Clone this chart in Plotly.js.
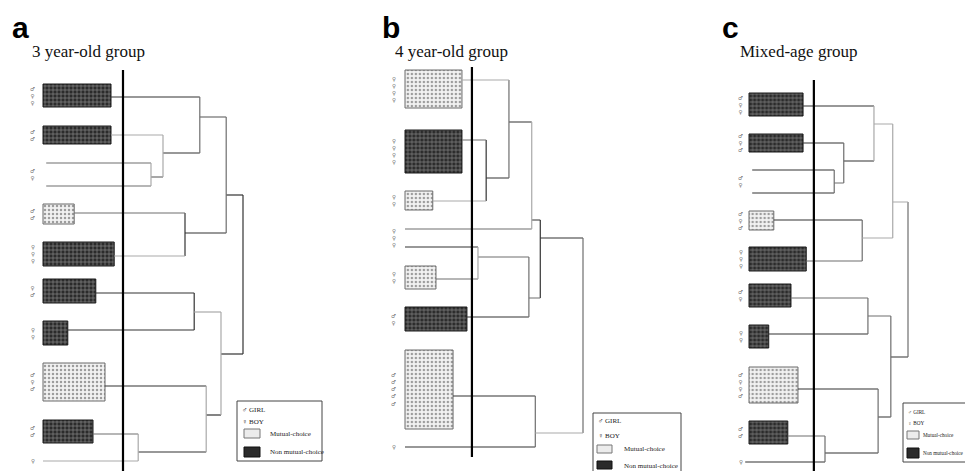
<!DOCTYPE html>
<html><head><meta charset="utf-8">
<script src="https://cdn.plot.ly/plotly-3.0.1.min.js"></script>
<style>html,body{margin:0;padding:0;background:#fff}#chart{width:965px;height:471px}</style>
</head><body><div id="chart"></div>
<script>
// ================= DATA =================
// Panel a — 3 year-old group (leaves top to bottom)
const labelsA   = ['♂♀♀','♂♂','♂♀','','♂♂','♀♀♀','♀♂','♀♀','♂♀♂','♂♂','♀'];
const typesA    = ['N','N','','','M','N','N','N','M','N',''];     // M = mutual-choice, N = non mutual-choice
const lenA      = [8.5,8.5,0.4,0.4,3.9,8.9,6.6,3.1,7.75,6.25,0];  // bar length (rescaled distance)
const rowA      = [97,135,163,186,213,256,293,330,386,434,461];
const rectTopA  = [84,126,null,null,204,242,279,321,363,420,null];
const rectBotA  = [107,144,null,null,224,266,303,345,401,443,null];
const mLeftA    = [2,1,0,4,13,6,9,8,16,15];
const mRightA   = [3,11,12,5,14,7,10,17,18,19];
const mDistA    = [13.5,15,19.6,17.75,22.9,18.9,11.9,20.4,22.25,25];
const mRowA     = [177,153,117,233,195,312,452,415,354,null];
const cutA      = 10;

// Panel b — 4 year-old group
const labelsB   = ['♀♀♀♀','♀♀♀♀','♀♀','♀♀♀','','♀♀','♂♀','♂♂♂♂♂','♀'];
const typesB    = ['M','N','M','','','M','N','M',''];
const lenB      = [8.0,8.0,3.9,0,0,4.35,8.7,6.75,0];
const rowB      = [80,140,201,229,247,279,317,396,447];
const rectTopB  = [70,130,191,null,null,266,307,350,null];
const rectBotB  = [108,173,210,null,null,289,331,429,null];
const mLeftB    = [1,0,10,4,12,11,7,14];
const mRightB   = [2,9,3,5,6,13,8,15];
const mDistB    = [11.4,14.6,17.8,10.25,17.4,19.0,18.3,25];
const mRowB     = [178,122,220,257,298,238,433,null];
const cutB      = 9.4;

// Panel c — Mixed-age group
const labelsC   = ['♂♀♀','♂♀♂','♂♀','','♂♀♂','♀♀♀','♂♀','♀♀','♂♀♀♂','♂♂','♀'];
const typesC    = ['N','N','','','M','N','N','N','M','N',''];
const lenC      = [8.5,8.5,0.5,0.5,3.9,9.0,6.6,3.1,7.7,6.1,-0.6];
const rowC      = [106,143,170,193,220,261,298,334,389,436,462];
const rectTopC  = [93,134,null,null,211,247,284,325,367,421,null];
const rectBotC  = [116,152,null,null,230,271,307,348,403,444,null];
const mLeftC    = [2,1,0,4,13,6,9,8,16,15];
const mRightC   = [3,11,12,5,14,7,10,17,18,19];
const mDistC    = [13.4,14.9,19.65,17.8,22.6,18.7,11.95,20.3,22.3,25];
const mRowC     = [183,161,124,238,202,316,453,417,357,null];
const cutC      = 10.2;

const titles      = ['3 year-old group','4 year-old group','Mixed-age group'];
const letters     = ['a','b','c'];
const genderKey   = ['♂ GIRL','♀ BOY'];
const legendNames = ['Mutual-choice','Non mutual-choice'];

// ================= STYLE / LAYOUT (separate from data) =================
const shade = {d:'#333333', g:'#6e6e6e', l:'#a9a9a9'};
const hStyleA = ['d','l','g','g','g','l','d','d','d','g','l','g','d','g','d','d','l','d','d','d'];
const vStyleA = ['l','l','g','d','g','d','l','l','l','d'];
const hStyleB = ['l','g','l','g','d','g','d','d','d','d','d','d','g','g','d','l'];
const vStyleB = ['d','g','l','l','g','d','g','g'];
const hStyleC = ['d','d','d','d','d','g','g','d','d','g','d','g','d','l','l','l','g','d','d','d'];
const vStyleC = ['g','g','l','g','l','g','g','g','g','g'];
const fillM = '#ececec', fillN = '#2b2b2b';

const W = 965, H = 471;
const panels = [
  {labels:labelsA,types:typesA,len:lenA,row:rowA,top:rectTopA,bot:rectBotA,L:mLeftA,R:mRightA,D:mDistA,MR:mRowA,cut:cutA,
   hs:hStyleA,vs:vStyleA,org:43,scale:8,cutSpan:[70,471],labShift:-6,letterX:10,titleX:30,
   leg:{box:[237,401,322,461],tx:240,ty:[410,422],sw:[244,260],sy:[[429,438],[447,457]],lx:268,ly:[433.5,452],fs:7}},
  {labels:labelsB,types:typesB,len:lenB,row:rowB,top:rectTopB,bot:rectBotB,L:mLeftB,R:mRightB,D:mDistB,MR:mRowB,cut:cutB,
   hs:hStyleB,vs:vStyleB,org:405,scale:7.12,cutSpan:[67,457],labShift:-7,letterX:380,titleX:393,
   leg:{box:[593,413,681,472],tx:596,ty:[421,436],sw:[597,612],sy:[[445,453],[461,469]],lx:622,ly:[449,465.5],fs:7}},
  {labels:labelsC,types:typesC,len:lenC,row:rowC,top:rectTopC,bot:rectBotC,L:mLeftC,R:mRightC,D:mDistC,MR:mRowC,cut:cutC,
   hs:hStyleC,vs:vStyleC,org:749,scale:6.36,cutSpan:[80,471],labShift:-4,letterX:720,titleX:738,
   leg:{box:[903,403,966,462],tx:906,ty:[412,423],sw:[907,919],sy:[[431,439],[448,458]],lx:921,ly:[435,453],fs:5.2}}
];

const traces = [];
const annotations = [];
const shapes = [];
const layout = {
  width:W, height:H, margin:{l:0,r:0,t:0,b:0,autoexpand:false},
  paper_bgcolor:'#fff', plot_bgcolor:'rgba(0,0,0,0)', barmode:'overlay', showlegend:false,
  yaxis:{range:[H,0], domain:[0,1], visible:false, fixedrange:true},
  annotations:annotations, shapes:shapes
};
const px = v => v / W, py = v => 1 - v / H;

panels.forEach((p, pi) => {
  const xa = pi === 0 ? 'x' : 'x' + (pi + 1);
  const axKey = pi === 0 ? 'xaxis' : 'xaxis' + (pi + 1);
  const lo = -1, hi = 25.5;
  layout[axKey] = {range:[lo,hi], domain:[(p.org + lo*p.scale)/W, (p.org + hi*p.scale)/W],
                   visible:false, anchor:'y', fixedrange:true};
  const nLeaf = p.labels.length;
  const nNode = nLeaf + p.L.length;
  const xPos = [], yPos = [], parent = new Array(nNode).fill(-1);
  for (let i = 0; i < nLeaf; i++) { xPos[i] = p.len[i]; yPos[i] = p.row[i]; }
  p.L.forEach((l, k) => {
    const id = nLeaf + k;
    xPos[id] = p.D[k]; yPos[id] = p.MR[k];
    parent[l] = id; parent[p.R[k]] = id;
  });
  const segs = {d:{x:[],y:[]}, g:{x:[],y:[]}, l:{x:[],y:[]}};
  for (let i = 0; i < nNode; i++) {
    if (parent[i] < 0) continue;
    const s = segs[p.hs[i]];
    s.x.push(xPos[i], xPos[parent[i]], null);
    s.y.push(yPos[i], yPos[i], null);
  }
  p.L.forEach((l, k) => {
    const s = segs[p.vs[k]];
    s.x.push(p.D[k], p.D[k], null);
    s.y.push(yPos[l], yPos[p.R[k]], null);
  });
  Object.keys(segs).forEach(k => {
    traces.push({type:'scatter', mode:'lines', x:segs[k].x, y:segs[k].y, xaxis:xa, yaxis:'y',
      line:{color:shade[k], width:1.2}, hoverinfo:'skip', connectgaps:false});
  });
  // bars (group rectangles)
  ['M','N'].forEach(t => {
    const xs = [], ys = [], ws = [];
    for (let i = 0; i < nLeaf; i++) {
      if (p.types[i] !== t) continue;
      xs.push(p.len[i]); ys.push((p.top[i] + p.bot[i]) / 2); ws.push(p.bot[i] - p.top[i]);
    }
    const mutual = t === 'M';
    traces.push({type:'bar', orientation:'h', x:xs, y:ys, width:ws, base:0,
      xaxis:xa, yaxis:'y', name:mutual ? legendNames[0] : legendNames[1], cliponaxis:false,
      marker:{color: mutual ? fillM : fillN,
        line:{color: mutual ? '#6a6a6a' : '#1a1a1a', width:1},
        pattern:{shape: mutual ? '.' : '+', fgcolor: mutual ? '#9d9d9d' : '#8a8a8a',
                 bgcolor: mutual ? '#f2f2f2' : fillN, size:4, solidity:0.3}},
      hoverinfo:'skip'});
  });
  // cut line
  traces.push({type:'scatter', mode:'lines', x:[p.cut, p.cut], y:p.cutSpan, xaxis:xa, yaxis:'y',
    line:{color:'#000', width:2.2}, hoverinfo:'skip'});
  // leaf labels
  for (let i = 0; i < nLeaf; i++) {
    if (!p.labels[i]) continue;
    let y;
    if (p.top[i] != null) y = (p.top[i] + p.bot[i]) / 2;
    else if (i + 1 < nLeaf && !p.labels[i + 1] && p.top[i + 1] == null) y = (p.row[i] + p.row[i + 1]) / 2;
    else y = p.row[i];
    annotations.push({xref:xa, yref:'y', x:0, y:y, xanchor:'right', yanchor:'middle', xshift:p.labShift,
      text:[...p.labels[i]].join('<br>'), showarrow:false,
      font:{family:'DejaVu Sans', size:5.5, color:'#6a6a6a'}});
  }
  // panel letter and title
  annotations.push({xref:'paper', yref:'paper', x:px(p.letterX), y:py(28), xanchor:'left', yanchor:'middle',
    text:'<b>' + letters[pi] + '</b>', showarrow:false, font:{family:'Liberation Sans', size:30, color:'#000'}});
  annotations.push({xref:'paper', yref:'paper', x:px(p.titleX), y:py(52), xanchor:'left', yanchor:'middle',
    text:titles[pi], showarrow:false, font:{family:'Liberation Serif', size:17, color:'#111'}});
  // key box
  const g = p.leg;
  const lf = {family:'Liberation Serif', size:g.fs, color:'#222'};
  shapes.push({type:'rect', xref:'paper', yref:'paper', x0:px(g.box[0]), x1:px(g.box[2]), y0:py(g.box[1]), y1:py(g.box[3]),
    line:{color:'#444', width:1}, fillcolor:'#fff', layer:'above'});
  genderKey.forEach((s, k) => annotations.push({xref:'paper', yref:'paper', x:px(g.tx), y:py(g.ty[k]),
    xanchor:'left', yanchor:'middle', text:s, showarrow:false, font:lf}));
  [[fillM,'#777'],[fillN,'#111']].forEach((c, k) => {
    shapes.push({type:'rect', xref:'paper', yref:'paper', x0:px(g.sw[0]), x1:px(g.sw[1]),
      y0:py(g.sy[k][0]), y1:py(g.sy[k][1]), fillcolor:c[0], line:{color:c[1], width:1}, layer:'above'});
    annotations.push({xref:'paper', yref:'paper', x:px(g.lx), y:py(g.ly[k]), xanchor:'left', yanchor:'middle',
      text:legendNames[k], showarrow:false, font:lf});
  });
});

Plotly.newPlot('chart', traces, layout, {displayModeBar:false, staticPlot:true});
</script>
</body></html>
